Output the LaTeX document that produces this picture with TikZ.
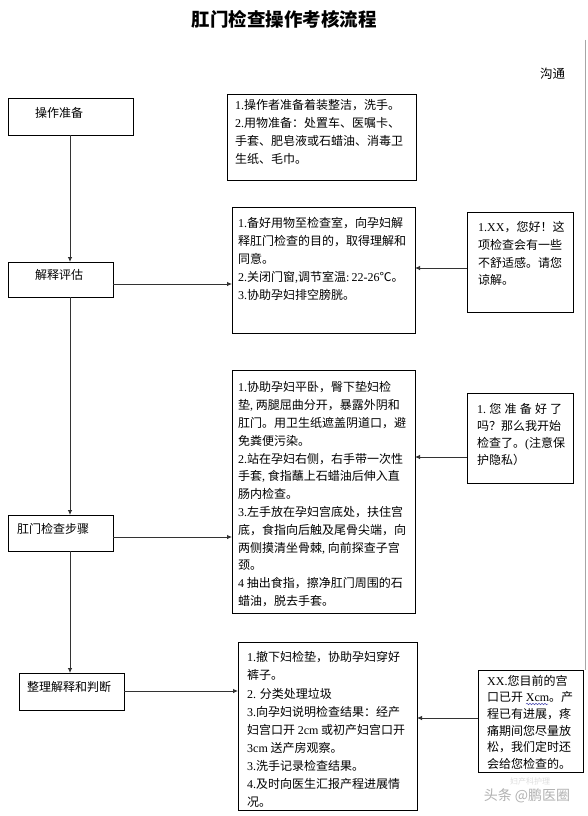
\documentclass[tikz,border=0pt]{standalone}
\usepackage{fontspec}
\setmainfont{Noto Sans CJK SC}
\newfontfamily\latfont{Liberation Serif}
\newcommand\latn[1]{{\latfont #1}}
\usetikzlibrary{arrows.meta,calc,decorations.pathmorphing}
\begin{document}
\begin{tikzpicture}[x=1pt,y=1pt,
  box/.style={draw=black, line width=0.8pt, anchor=north west, inner sep=0pt, outer sep=0pt},
  txt/.style={anchor=north west, inner sep=0pt, align=left, font=\fontsize{12}{17.8}\selectfont},
  lab/.style={anchor=west, inner sep=0pt, font=\fontsize{12}{14}\selectfont},
  arr/.style={draw=black!80, line width=0.8pt, -{Latex[length=5pt,width=4.5pt]}}]
\useasboundingbox (0,0) rectangle (588,-816);
\fill[white] (0,0) rectangle (588,-816);
% page edge
\draw[gray!70, line width=0.6pt] (585,-40) -- (585,-670);
% title
\node[font=\bfseries\fontsize{18.5}{20}\selectfont] (title) at (284,-19) {肛门检查操作考核流程};
\node[lab, font=\fontsize{12.5}{14}\selectfont] (gt) at (540,-74) {沟通};
% left boxes
\node[box, minimum width=125, minimum height=37] (p1) at (8,-98) {};
\node[box, minimum width=105, minimum height=35] (p2) at (8,-262) {};
\node[box, minimum width=105, minimum height=36] (p3) at (8,-515) {};
\node[box, minimum width=105, minimum height=37] (p4) at (19,-673) {};
\node[lab] (t1) at (35,-113) {操作准备};
\node[lab] (t2) at (35,-275) {解释评估};
\node[lab] (t3) at (17,-529) {肛门检查步骤};
\node[lab] (t4) at (27,-687) {整理解释和判断};
% middle boxes
\node[box, minimum width=189, minimum height=86] (m1) at (227,-94) {};
\node[box, minimum width=183, minimum height=126] (m2) at (232,-207) {};
\node[box, minimum width=183, minimum height=243] (m3) at (232,-370) {};
\node[box, minimum width=179, minimum height=168] (m4) at (238,-642) {};
% right boxes
\node[box, minimum width=106, minimum height=100] (r1) at (467,-212) {};
\node[box, minimum width=106, minimum height=90] (r2) at (467,-393) {};
\node[box, minimum width=105, minimum height=102] (r3) at (478,-670) {};
% texts
\node[txt] (x1) at (235,-99.5) {\latn{1.}操作者准备着装整洁，洗手。\\
\latn{2.}用物准备：处置车、医嘱卡、\\
手套、肥皂液或石蜡油、消毒卫\\
生纸、毛巾。};
\node[txt] (x2) at (238,-217.5) {\latn{1.}备好用物至检查室，向孕妇解\\
释肛门检查的目的，取得理解和\\
同意。\\
\latn{2.}关闭门窗\latn{,}调节室温\latn{:}\,\latn{22-26}℃。\\
\latn{3.}协助孕妇排空膀胱。};
\node[txt] (x3) at (238,-381.5) {\latn{1.}协助孕妇平卧，臀下垫妇检\\
垫\latn{,} 两腿屈曲分开，暴露外阴和\\
肛门。用卫生纸遮盖阴道口，避\\
免粪便污染。\\
\latn{2.}站在孕妇右侧，右手带一次性\\
手套\latn{,} 食指蘸上石蜡油后伸入直\\
肠内检查。\\
\latn{3.}左手放在孕妇宫底处，扶住宫\\
底，食指向后触及尾骨尖端，向\\
两侧摸清坐骨棘\latn{,} 向前探查子宫\\
颈。\\
\latn{4} 抽出食指，擦净肛门周围的石\\
蜡油，脱去手套。};
\node[txt, font=\fontsize{12}{18.1}\selectfont] (x4) at (247,-651.5) {\latn{1.}撤下妇检垫，协助孕妇穿好\\
裤子。\\
\latn{2.} 分类处理垃圾\\
\latn{3.}向孕妇说明检查结果：经产\\
妇宫口开 \latn{2cm} 或初产妇宫口开\\
\latn{3cm} 送产房观察。\\
\latn{3.}洗手记录检查结果。\\
\latn{4.}及时向医生汇报产程进展情\\
况。};
\node[txt, font=\fontsize{12}{17.7}\selectfont] (y1) at (478,-221.5) {\latn{1.XX}，您好！这\\
项检查会有一些\\
不舒适感。请您\\
谅解。};
\node[txt, font=\fontsize{12}{17}\selectfont] (y2) at (477,-403.5) {\makebox[85pt][s]{\latn{1.}\hfill 您\hfill 准\hfill 备\hfill 好\hfill 了}\\
吗？那么我开始\\
检查了。\latn{(}注意保\\
护隐私）};
\node[txt, font=\fontsize{12}{16.6}\selectfont] (y3) at (487,-675) {\latn{XX.}您目前的宫\\
口已开 \latn{Xcm}。产\\
程已有进展，疼\\
痛期间您尽量放\\
松，我们定时还\\
会给您检查的。};
\draw[blue!40!gray, line width=0.5pt, decorate, decoration={snake, amplitude=0.8pt, segment length=3pt}] (526,-704) -- (548,-704);
% watermark
\node[font=\fontsize{8}{9}\selectfont, text=gray!25] (wm0) at (530,-781) {妇产科护理};
\node[font=\fontsize{14}{15}\selectfont, text=gray!60] (wm) at (527,-796) {头条 @鹏医圈};
% vertical flow
\coordinate (vx) at (70,0);
\draw[arr] (p1.south -| vx) -- (p2.north -| vx);
\draw[arr] (p2.south -| vx) -- (p3.north -| vx);
\draw[arr] (p3.south -| vx) -- (p4.north -| vx);
% to middle boxes
\coordinate (ya) at (0,-284);
\coordinate (yb) at (0,-537);
\coordinate (yc) at (0,-691);
\draw[arr] (p2.east |- ya) -- (m2.west |- ya);
\draw[arr] (p3.east |- yb) -- (m3.west |- yb);
\draw[arr] (p4.east |- yc) -- (m4.west |- yc);
% from right boxes
\coordinate (za) at (0,-268);
\coordinate (zb) at (0,-457);
\coordinate (zc) at (0,-718);
\draw[arr] (r1.west |- za) -- (m2.east |- za);
\draw[arr] (r2.west |- zb) -- (m3.east |- zb);
\draw[arr] (r3.west |- zc) -- (m4.east |- zc);
\end{tikzpicture}
\end{document}
